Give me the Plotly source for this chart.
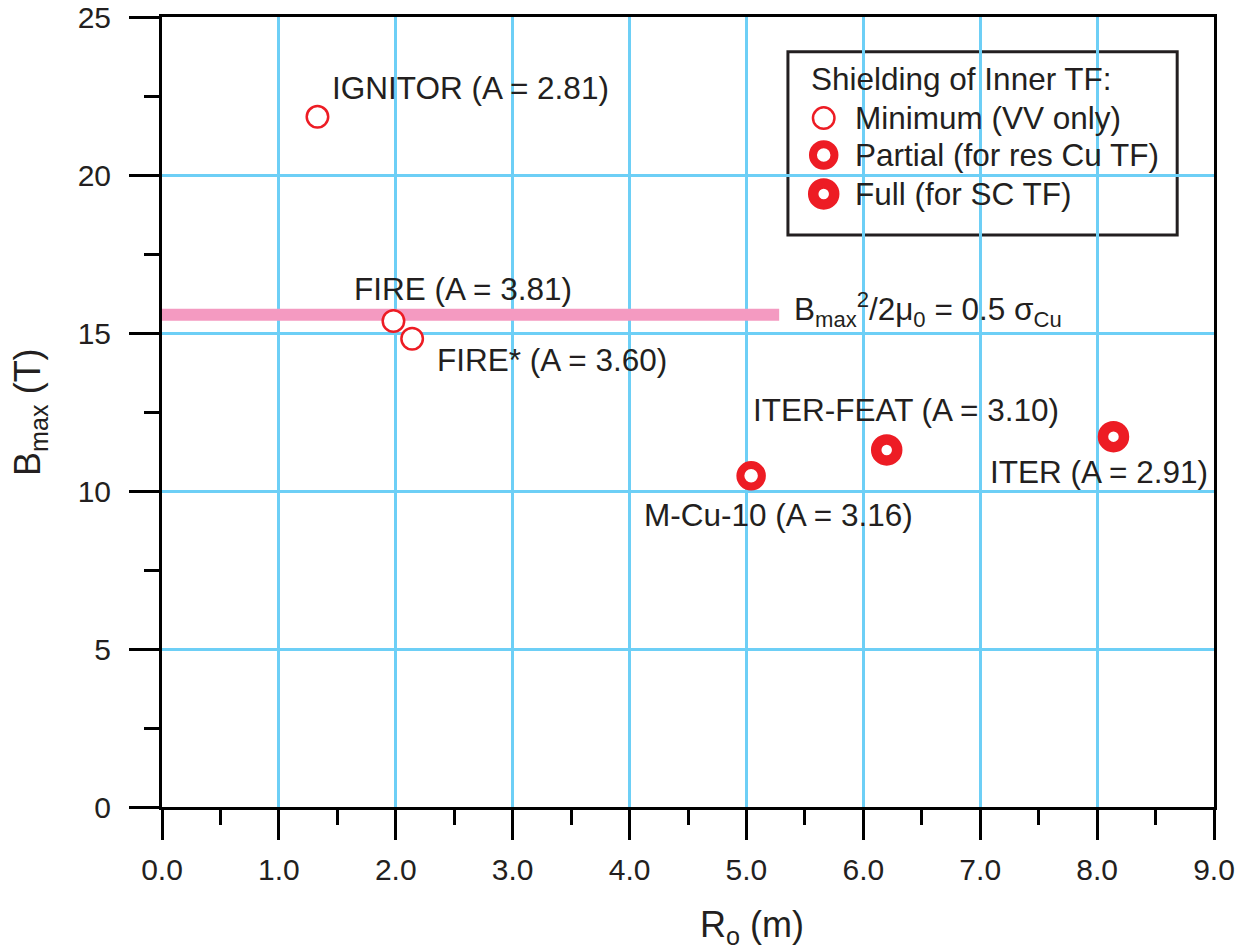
import plotly.graph_objects as go

# ---- data ----
machines = ["IGNITOR", "FIRE", "FIRE*", "M-Cu-10", "ITER-FEAT", "ITER"]
aspect_ratio = [2.81, 3.81, 3.60, 3.16, 3.10, 2.91]
major_radius = [1.33, 1.98, 2.14, 5.04, 6.20, 8.14]
b_max = [21.84, 15.38, 14.82, 10.48, 11.30, 11.72]
shielding = ["Minimum", "Minimum", "Minimum", "Partial", "Full", "Full"]

limit_x = [0.0, 5.28]
limit_b = [15.58, 15.58]

legend_levels = ["Minimum", "Partial", "Full"]
legend_labels = ["Minimum (VV only)", "Partial (for res Cu TF)", "Full (for SC TF)"]

x_ticks = [0, 1, 2, 3, 4, 5, 6, 7, 8, 9]
y_ticks = [0, 5, 10, 15, 20, 25]

# ---- styles ----
RED = "#ed1c24"
BLUE = "#6dcff6"
PINK = "#f49ac1"
TXT = "#231f20"
FONT = "Liberation Sans, Arial, Helvetica, sans-serif"
FS = 31.5
TFS = 30
style = {
    "Minimum": dict(size=21.5, lw=2.5),
    "Partial": dict(size=21.5, lw=8),
    "Full": dict(size=21, lw=10.5),
}

# label placement (data coords, left-anchored)
label_x = [1.437, 1.625, 2.336, 4.106, 5.039, 7.067]
label_y = [22.75, 16.39, 14.15, 9.24, 12.56, 10.60]

fig = go.Figure()

fig.add_trace(go.Scatter(
    x=limit_x, y=limit_b, mode="lines",
    line=dict(color=PINK, width=12), hoverinfo="skip"))

for lvl in legend_levels:
    idx = [i for i, s in enumerate(shielding) if s == lvl]
    st = style[lvl]
    fig.add_trace(go.Scatter(
        x=[major_radius[i] for i in idx], y=[b_max[i] for i in idx],
        mode="markers",
        marker=dict(size=st["size"], color="white",
                    line=dict(color=RED, width=st["lw"])),
        name=lvl))

# legend markers on overlay axes (0..1 across the plot area)
leg_x = [0.629, 0.629, 0.629]
leg_y = [0.872, 0.8253, 0.776]
for k, lvl in enumerate(legend_levels):
    st = style[lvl]
    fig.add_trace(go.Scatter(
        x=[leg_x[k]], y=[leg_y[k]], xaxis="x2", yaxis="y2", mode="markers",
        marker=dict(size=st["size"], color="white",
                    line=dict(color=RED, width=st["lw"])),
        hoverinfo="skip", cliponaxis=False))

ann = []
for i, m in enumerate(machines):
    ann.append(dict(x=label_x[i], y=label_y[i], xref="x", yref="y",
                    text=f"{m} (A = {aspect_ratio[i]:.2f})",
                    showarrow=False, xanchor="left", yanchor="middle",
                    font=dict(size=FS, color=TXT, family=FONT)))

ann.append(dict(x=5.39, y=15.75, xref="x", yref="y",
                text="B<sub>max</sub><sup>2</sup>/2\u03bc<sub>0</sub> = 0.5 \u03c3<sub>Cu</sub>",
                showarrow=False, xanchor="left", yanchor="middle",
                font=dict(size=FS, color=TXT, family=FONT)))

# legend texts
ann.append(dict(x=0.615, y=0.9215, xref="paper", yref="paper",
                text="Shielding of Inner TF:", showarrow=False,
                xanchor="left", yanchor="middle",
                font=dict(size=FS, color=TXT, family=FONT)))
for k, lab in enumerate(legend_labels):
    ann.append(dict(x=0.657, y=leg_y[k], xref="paper", yref="paper",
                    text=lab, showarrow=False, xanchor="left", yanchor="middle",
                    font=dict(size=FS, color=TXT, family=FONT)))

# axis titles
ann.append(dict(x=0.561, y=-0.152, xref="paper", yref="paper",
                text="R<sub>o</sub> (m)", showarrow=False,
                xanchor="center", yanchor="middle",
                font=dict(size=36, color=TXT, family=FONT)))
ann.append(dict(x=-0.1255, y=0.5, xref="paper", yref="paper",
                text="B<sub>max</sub> (T)", showarrow=False, textangle=-90,
                xanchor="center", yanchor="middle",
                font=dict(size=36, color=TXT, family=FONT)))

axis_common = dict(
    showgrid=True, gridcolor=BLUE, gridwidth=3, zeroline=False,
    showline=True, linewidth=3, linecolor="black", mirror=True,
    ticks="outside", ticklen=30, tickwidth=3, tickcolor="black",
    tickfont=dict(size=TFS, color=TXT, family=FONT),
    automargin=False,
)

fig.update_layout(
    width=1240, height=952,
    margin=dict(l=162, r=26, t=17, b=145),
    plot_bgcolor="white", paper_bgcolor="white",
    showlegend=False,
    annotations=ann,
    xaxis=dict(range=[0, 9], tickvals=x_ticks, tickformat=".1f",
               ticklabelstandoff=4,
               minor=dict(dtick=0.5, tick0=0, ticks="outside", ticklen=15,
                          tickwidth=3, tickcolor="black", showgrid=False),
               **axis_common),
    yaxis=dict(range=[0, 25], tickvals=y_ticks, ticklabelstandoff=12,
               minor=dict(dtick=2.5, tick0=0, ticks="outside", ticklen=15,
                          tickwidth=3, tickcolor="black", showgrid=False),
               **axis_common),
    xaxis2=dict(overlaying="x", anchor="y2", range=[0, 1], visible=False),
    yaxis2=dict(overlaying="y", anchor="x2", range=[0, 1], visible=False),
    shapes=[dict(type="rect", xref="paper", yref="paper",
                 x0=0.595, x1=0.965, y0=0.724, y1=0.956,
                 line=dict(color="#231f20", width=3), fillcolor="white",
                 layer="between")],
)

fig.write_html("out.html")
